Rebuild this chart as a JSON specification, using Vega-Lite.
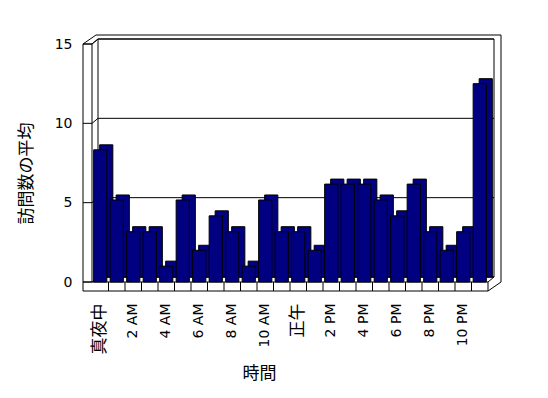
{
  "$schema": "https://vega.github.io/schema/vega-lite/v6.json",
  "width": 396,
  "height": 238,
  "autosize": "none",
  "padding": {"left": 92, "top": 44, "right": 60, "bottom": 116},
  "background": "white",
  "config": {"view": {"stroke": null}},
  "data": {"values": [
    {"hour": "真夜中", "visits": 8.33},
    {"hour": "1 AM", "visits": 5.17},
    {"hour": "2 AM", "visits": 3.17},
    {"hour": "3 AM", "visits": 3.17},
    {"hour": "4 AM", "visits": 1.0},
    {"hour": "5 AM", "visits": 5.17},
    {"hour": "6 AM", "visits": 2.0},
    {"hour": "7 AM", "visits": 4.17},
    {"hour": "8 AM", "visits": 3.17},
    {"hour": "9 AM", "visits": 1.0},
    {"hour": "10 AM", "visits": 5.17},
    {"hour": "11 AM", "visits": 3.17},
    {"hour": "正午", "visits": 3.17},
    {"hour": "1 PM", "visits": 2.0},
    {"hour": "2 PM", "visits": 6.17},
    {"hour": "3 PM", "visits": 6.17},
    {"hour": "4 PM", "visits": 6.17},
    {"hour": "5 PM", "visits": 5.17},
    {"hour": "6 PM", "visits": 4.17},
    {"hour": "7 PM", "visits": 6.17},
    {"hour": "8 PM", "visits": 3.17},
    {"hour": "9 PM", "visits": 2.0},
    {"hour": "10 PM", "visits": 3.17},
    {"hour": "11 PM", "visits": 12.5}
  ]},
  "layer": [
    {
      "mark": {"type": "bar", "fill": "#000080", "stroke": "black", "strokeWidth": 1, "width": {"band": 0.8}, "opacity": 0},
      "encoding": {
        "x": {
          "field": "hour",
          "type": "nominal",
          "sort": null,
          "scale": {
            "domain": ["真夜中", "1 AM", "2 AM", "3 AM", "4 AM", "5 AM", "6 AM", "7 AM", "8 AM", "9 AM", "10 AM", "11 AM", "正午", "1 PM", "2 PM", "3 PM", "4 PM", "5 PM", "6 PM", "7 PM", "8 PM", "9 PM", "10 PM", "11 PM"],
            "paddingInner": 0,
            "paddingOuter": 0
          },
          "axis": {
            "title": "時間",
            "orient": "bottom",
            "domain": false,
            "ticks": false,
            "grid": false,
            "labelAngle": -90,
            "labelAlign": "right",
            "labelBaseline": "middle",
            "labelPadding": 21,
            "labelOverlap": false,
            "labelExpr": "test(/^(1|3|5|7|9|11) /, datum.label) ? '' : datum.label",
            "labelFont": {"condition": {"test": "datum.value === '真夜中' || datum.value === '正午'", "value": "Noto Sans CJK JP"}, "value": "DejaVu Sans"},
            "labelFontSize": {"condition": {"test": "datum.value === '真夜中' || datum.value === '正午'", "value": 17}, "value": 14},
            "labelColor": {"condition": {"test": "datum.value === '真夜中' || datum.value === '正午'", "value": "#000000"}, "value": "#000000"},
            "titleFont": "Noto Sans CJK JP",
            "titleFontSize": 17,
            "titleFontWeight": "normal",
            "titleColor": "black",
            "titleX": 167,
            "titlePadding": 12
          }
        },
        "y": {
          "field": "visits",
          "type": "quantitative",
          "scale": {"domain": [0, 15], "nice": false},
          "axis": {
            "title": "訪問数の平均",
            "orient": "left",
            "values": [0, 5, 10, 15],
            "domain": false,
            "ticks": false,
            "grid": false,
            "labelPadding": 20,
            "labelFont": "DejaVu Sans",
            "labelFontSize": 14,
            "labelColor": "black",
            "titleFont": "Noto Sans CJK JP",
            "titleFontSize": 17,
            "titleFontWeight": "normal",
            "titleColor": "black",
            "titleY": 129,
            "titlePadding": 19
          }
        }
      }
    },
    {
      "data": {"values": [{}]},
      "mark": {"type": "rule", "color": "black", "xOffset": -9, "y2Offset": 9},
      "encoding": {
        "x": {"datum": "真夜中", "bandPosition": 0, "type": "nominal"},
        "y": {"datum": 15, "type": "quantitative"},
        "y2": {"datum": 0}
      }
    },
    {
      "data": {"values": [{}]},
      "mark": {"type": "rule", "color": "black", "xOffset": -9, "x2Offset": 4, "y2Offset": -9},
      "encoding": {
        "x": {"datum": "真夜中", "bandPosition": 0, "type": "nominal"},
        "x2": {"datum": "真夜中", "bandPosition": 0},
        "y": {"datum": 15, "type": "quantitative"},
        "y2": {"datum": 15}
      }
    },
    {
      "data": {"values": [{}]},
      "mark": {"type": "rule", "color": "black", "xOffset": 4, "x2Offset": 13, "yOffset": -9},
      "encoding": {
        "x": {"datum": "真夜中", "bandPosition": 0, "type": "nominal"},
        "x2": {"datum": "11 PM", "bandPosition": 1},
        "y": {"datum": 15, "type": "quantitative"}
      }
    },
    {
      "data": {"values": [{}]},
      "mark": {"type": "rule", "color": "black", "xOffset": 13, "yOffset": -9},
      "encoding": {
        "x": {"datum": "11 PM", "bandPosition": 1, "type": "nominal"},
        "y": {"datum": 15, "type": "quantitative"},
        "y2": {"datum": 0}
      }
    },
    {
      "data": {"values": [{}]},
      "mark": {"type": "rule", "color": "black", "xOffset": 13, "y2Offset": 9},
      "encoding": {
        "x": {"datum": "11 PM", "bandPosition": 1, "type": "nominal"},
        "x2": {"datum": "11 PM", "bandPosition": 1},
        "y": {"datum": 0, "type": "quantitative"},
        "y2": {"datum": 0}
      }
    },
    {
      "data": {"values": [{}]},
      "mark": {"type": "rule", "color": "black", "xOffset": -9, "yOffset": 9},
      "encoding": {
        "x": {"datum": "真夜中", "bandPosition": 0, "type": "nominal"},
        "x2": {"datum": "11 PM", "bandPosition": 1},
        "y": {"datum": 0, "type": "quantitative"}
      }
    },
    {
      "data": {"values": [{}]},
      "mark": {"type": "rect", "fill": "white", "stroke": "black", "strokeWidth": 1, "xOffset": 6, "x2Offset": 6, "yOffset": -5, "y2Offset": -5},
      "encoding": {
        "x": {"datum": "真夜中", "bandPosition": 0, "type": "nominal"},
        "x2": {"datum": "11 PM", "bandPosition": 1},
        "y": {"datum": 15, "type": "quantitative"},
        "y2": {"datum": 0}
      }
    },
    {
      "data": {"values": [{}]},
      "mark": {"type": "rule", "color": "black"},
      "encoding": {
        "x": {"datum": "真夜中", "bandPosition": 0, "type": "nominal"},
        "y": {"datum": 15, "type": "quantitative"},
        "y2": {"datum": 0}
      }
    },
    {
      "data": {"values": [{}]},
      "mark": {"type": "rule", "color": "black", "xOffset": -9},
      "encoding": {
        "x": {"datum": "真夜中", "bandPosition": 0, "type": "nominal"},
        "x2": {"datum": "真夜中", "bandPosition": 0},
        "y": {"datum": 15, "type": "quantitative"}
      }
    },
    {
      "data": {"values": [{}]},
      "mark": {"type": "rule", "color": "black", "x2Offset": 6, "y2Offset": -5},
      "encoding": {
        "x": {"datum": "真夜中", "bandPosition": 0, "type": "nominal"},
        "x2": {"datum": "真夜中", "bandPosition": 0},
        "y": {"datum": 15, "type": "quantitative"},
        "y2": {"datum": 15}
      }
    },
    {
      "data": {"values": [{"g": 0}, {"g": 5}, {"g": 10}, {"g": 15}]},
      "mark": {"type": "rule", "color": "black", "xOffset": 6, "x2Offset": 6, "yOffset": -5},
      "encoding": {
        "x": {"datum": "真夜中", "bandPosition": 0, "type": "nominal"},
        "x2": {"datum": "11 PM", "bandPosition": 1},
        "y": {"field": "g", "type": "quantitative"}
      }
    },
    {
      "data": {"values": [{"g": 0}, {"g": 5}, {"g": 10}, {"g": 15}]},
      "mark": {"type": "rule", "color": "black", "x2Offset": 6, "y2Offset": -5},
      "encoding": {
        "x": {"datum": "真夜中", "bandPosition": 0, "type": "nominal"},
        "x2": {"datum": "真夜中", "bandPosition": 0},
        "y": {"field": "g", "type": "quantitative"},
        "y2": {"field": "g"}
      }
    },
    {
      "data": {"values": [{"g": 0}, {"g": 5}, {"g": 10}, {"g": 15}]},
      "mark": {"type": "rule", "color": "black", "xOffset": -9},
      "encoding": {
        "x": {"datum": "真夜中", "bandPosition": 0, "type": "nominal"},
        "x2": {"datum": "真夜中", "bandPosition": 0},
        "y": {"field": "g", "type": "quantitative"}
      }
    },
    {
      "data": {"values": [{}]},
      "mark": {"type": "rule", "color": "black", "xOffset": -9},
      "encoding": {
        "x": {"datum": "真夜中", "bandPosition": 0, "type": "nominal"},
        "x2": {"datum": "11 PM", "bandPosition": 1},
        "y": {"datum": 0, "type": "quantitative"}
      }
    },
    {
      "mark": {"type": "rule", "color": "black", "y2Offset": 9},
      "encoding": {
        "x": {"field": "hour", "type": "nominal", "sort": null, "bandPosition": 1},
        "y": {"datum": 0, "type": "quantitative"},
        "y2": {"datum": 0}
      }
    },
    {
      "data": {"values": [{}]},
      "mark": {"type": "rule", "color": "black", "x2Offset": 6, "y2Offset": -5},
      "encoding": {
        "x": {"datum": "11 PM", "bandPosition": 1, "type": "nominal"},
        "x2": {"datum": "11 PM", "bandPosition": 1},
        "y": {"datum": 0, "type": "quantitative"},
        "y2": {"datum": 0}
      }
    },
    {
      "mark": {"type": "bar", "fill": "#000080", "stroke": "black", "strokeWidth": 1, "width": {"band": 0.8}, "xOffset": 6, "x2Offset": 6, "yOffset": -5, "y2Offset": -5},
      "encoding": {
        "x": {"field": "hour", "type": "nominal", "sort": null},
        "y": {"field": "visits", "type": "quantitative"}
      }
    },
    {
      "mark": {"type": "bar", "fill": "#000080", "stroke": "black", "strokeWidth": 1, "width": {"band": 0.8}},
      "encoding": {
        "x": {"field": "hour", "type": "nominal", "sort": null},
        "y": {"field": "visits", "type": "quantitative"}
      }
    }
  ]
}
